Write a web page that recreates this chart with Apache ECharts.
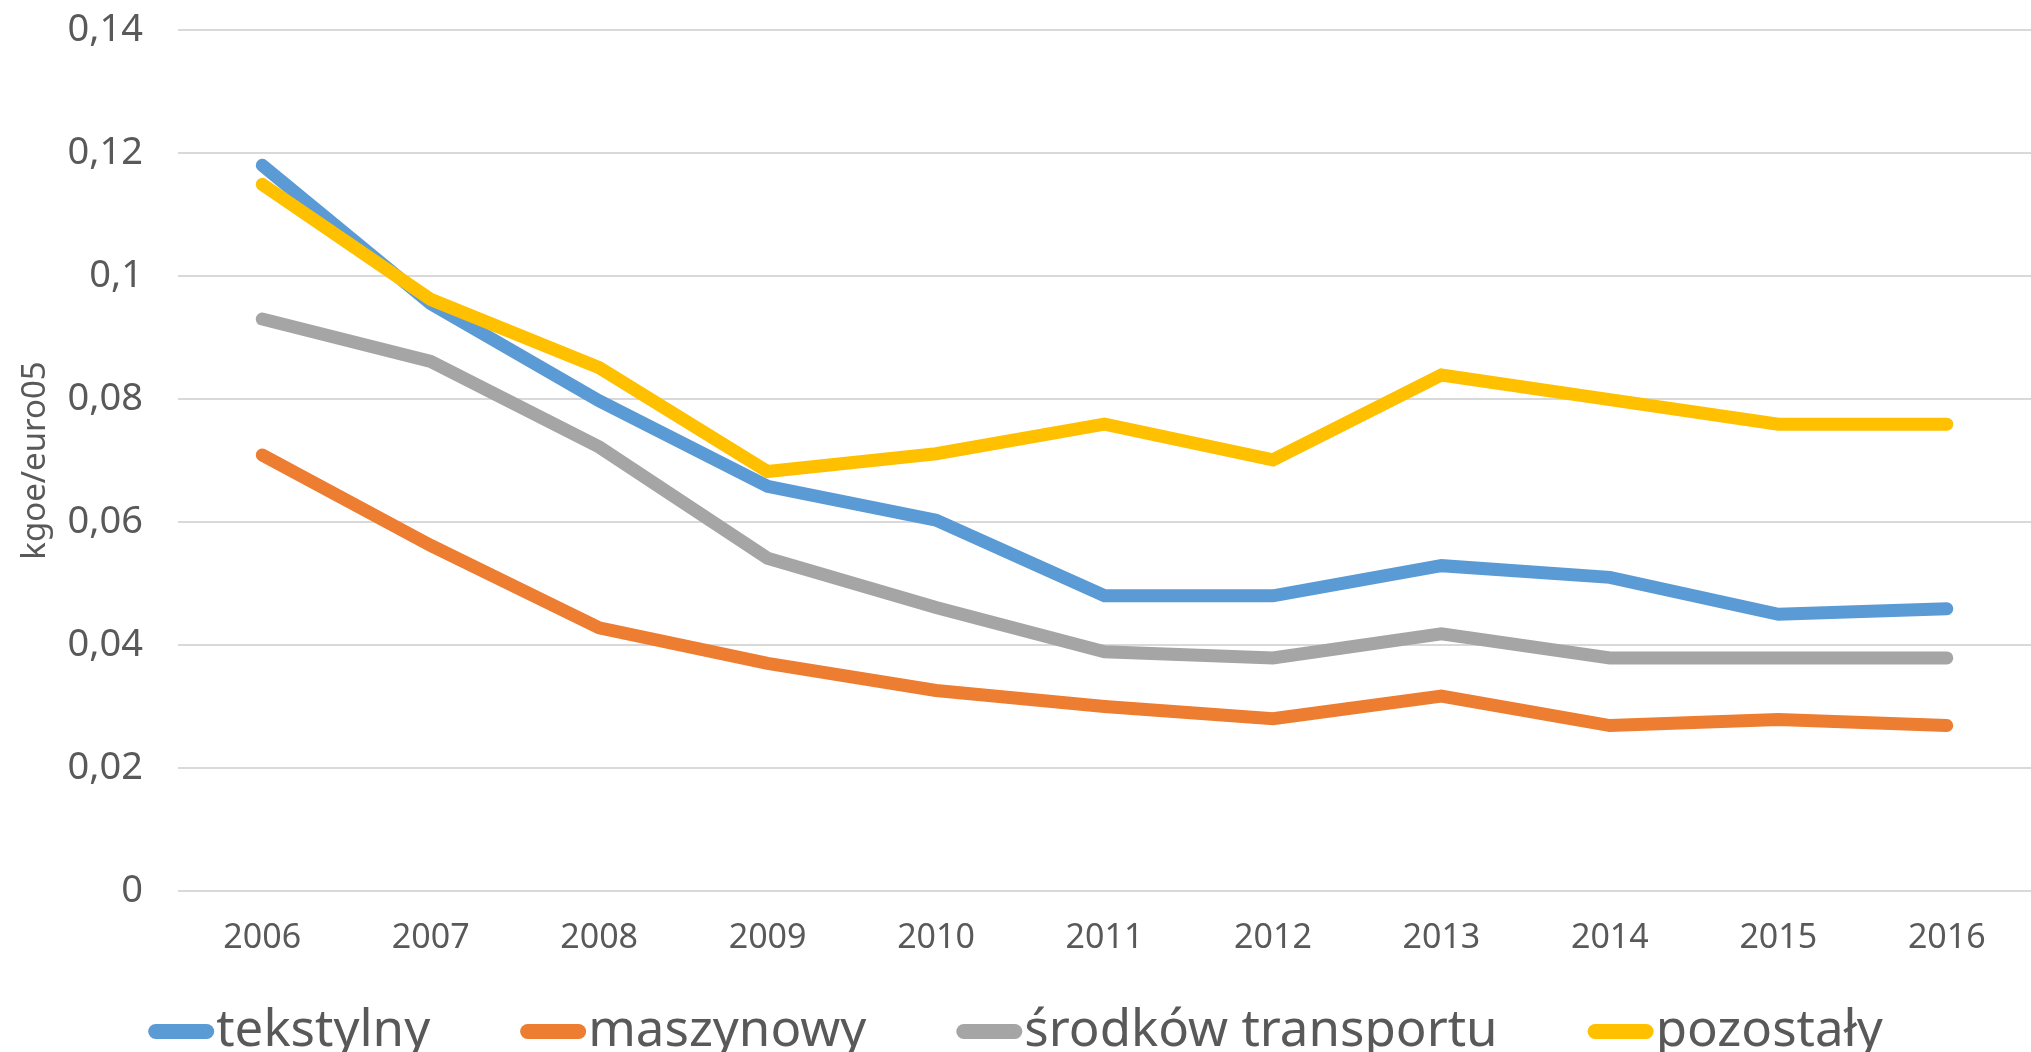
<!DOCTYPE html>
<html>
<head>
<meta charset="utf-8">
<script src="https://cdn.jsdelivr.net/npm/echarts@6/dist/echarts.min.js"></script>
<style>
html,body{margin:0;padding:0;background:#fff;}
#c{width:2031px;height:1052px;}
</style>
</head>
<body>
<div id="c"></div>
<script>
const years = ['2006','2007','2008','2009','2010','2011','2012','2013','2014','2015','2016'];
const tekstylny = [0.1180, 0.0955, 0.0797, 0.0658, 0.0603, 0.0480, 0.0480, 0.0529, 0.0510, 0.0450, 0.0459];
const maszynowy = [0.0709, 0.0562, 0.0428, 0.0370, 0.0326, 0.0300, 0.0280, 0.0317, 0.0269, 0.0279, 0.0269];
const srodkowTransportu = [0.0930, 0.0861, 0.0722, 0.0541, 0.0461, 0.0389, 0.0379, 0.0418, 0.0379, 0.0379, 0.0379];
const pozostaly = [0.1149, 0.0962, 0.0851, 0.0682, 0.0711, 0.0759, 0.0701, 0.0839, 0.0799, 0.0759, 0.0759];
const seriesNames = ['tekstylny', 'maszynowy', 'środków transportu', 'pozostały'];
const colors = ['#5B9BD5', '#ED7D31', '#A5A5A5', '#FFC000'];
const yAxisName = 'kgoe/euro05';

const FONT = '"Noto Sans", "Open Sans", sans-serif';
const chart = echarts.init(document.getElementById('c'));
const allData = [tekstylny, maszynowy, srodkowTransportu, pozostaly];
const icon = 'path://M7.5,0 H58.5 A7.5,7.5 0 0 1 58.5,15 H7.5 A7.5,7.5 0 0 1 7.5,0 Z';

chart.setOption({
  animation: false,
  backgroundColor: '#ffffff',
  textStyle: { fontFamily: FONT },
  grid: { left: 178, right: -5, top: 30, bottom: 161, containLabel: false },
  legend: {
    data: seriesNames.map(n => ({ name: n, icon: icon })),
    left: 'center',
    top: 1001,
    itemWidth: 66,
    itemHeight: 15,
    itemGap: 90,
    textStyle: { fontSize: 51, color: '#595959', fontFamily: FONT, padding: [0, 0, 0, -3] }
  },
  xAxis: {
    type: 'category',
    data: years,
    boundaryGap: true,
    axisLine: { show: false },
    axisTick: { show: false },
    axisLabel: { fontSize: 34, color: '#595959', margin: 30, fontFamily: FONT }
  },
  yAxis: {
    type: 'value',
    min: 0,
    max: 0.14,
    interval: 0.02,
    name: yAxisName,
    nameLocation: 'middle',
    nameGap: 126,
    nameTextStyle: { fontSize: 33, color: '#595959', fontFamily: FONT },
    axisLine: { show: false },
    axisTick: { show: false },
    splitLine: { lineStyle: { color: '#D9D9D9', width: 2 } },
    axisLabel: {
      fontSize: 38, color: '#595959', margin: 35, fontFamily: FONT,
      formatter: v => v === 0 ? '0' : String(Math.round(v * 100) / 100).replace('.', ',')
    }
  },
  series: seriesNames.map((n, i) => ({
    name: n,
    type: 'line',
    data: allData[i],
    symbol: 'none',
    color: colors[i],
    lineStyle: { width: 13, color: colors[i], cap: 'round', join: 'miter' },
    z: 2
  }))
});
</script>
</body>
</html>
